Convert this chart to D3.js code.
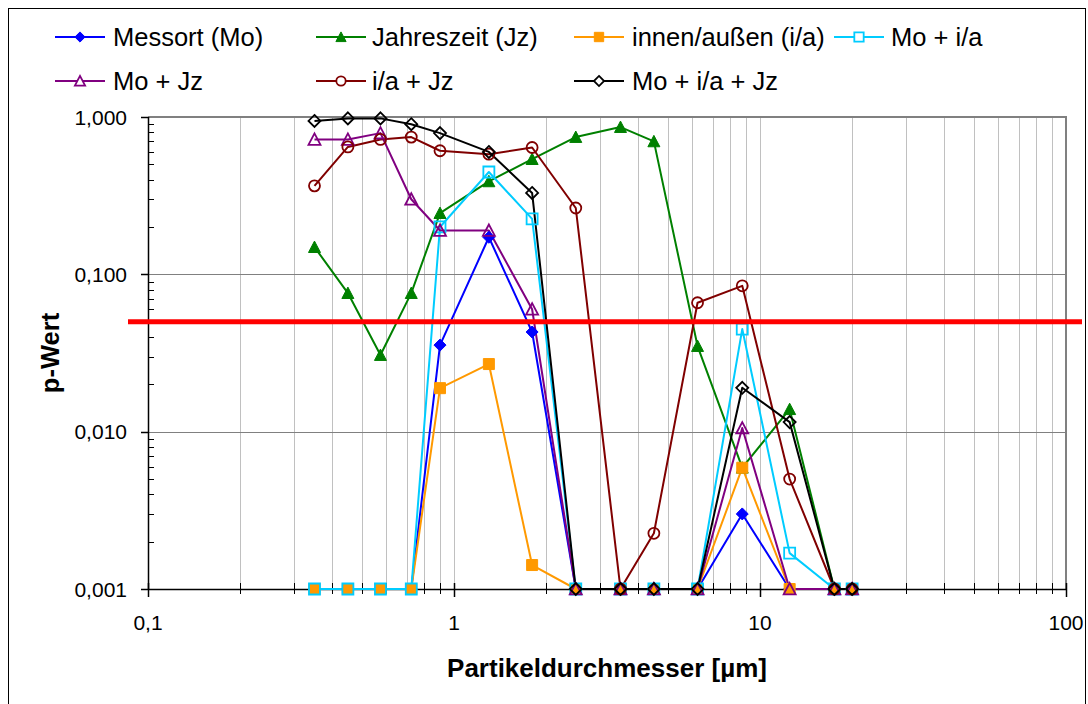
<!DOCTYPE html>
<html>
<head>
<meta charset="utf-8">
<script src="https://cdn.jsdelivr.net/npm/d3@7"></script>
<style>
  html, body { margin: 0; padding: 0; background: #fff; }
  svg { display: block; }
  text { font-family: "Liberation Sans", Arial, sans-serif; fill: #000; }
</style>
</head>
<body>
<svg id="chart" width="1088" height="704"></svg>
<script>
// ---- data ----
const particleSizes = [0.35, 0.45, 0.575, 0.725, 0.9, 1.3, 1.8, 2.5, 3.5, 4.5, 6.25, 8.75, 12.5, 17.5, 20];
const messort      = [0.001, 0.001, 0.001, 0.001, 0.0355, 0.172, 0.043, 0.001, 0.001, 0.001, 0.001, 0.0030, 0.001, 0.001, 0.001];
const jahreszeit   = [0.149, 0.076, 0.0307, 0.076, 0.245, 0.39, 0.54, 0.746, 0.863, 0.70, 0.035, 0.0059, 0.0139, 0.001, 0.001];
const innenAussen  = [0.001, 0.001, 0.001, 0.001, 0.0189, 0.0269, 0.00142, 0.001, 0.001, 0.001, 0.001, 0.0059, 0.001, 0.001, 0.001];
const moIa         = [0.001, 0.001, 0.001, 0.001, 0.20, 0.447, 0.225, 0.001, 0.001, 0.001, 0.001, 0.0449, 0.00169, 0.001, 0.001];
const moJz         = [0.72, 0.72, 0.79, 0.30, 0.19, 0.19, 0.060, 0.001, 0.001, 0.001, 0.001, 0.01054, 0.001, 0.001, 0.001];
const iaJz         = [0.365, 0.645, 0.72, 0.745, 0.61, 0.58, 0.64, 0.264, 0.001, 0.00226, 0.066, 0.0845, 0.0050, 0.001, 0.001];
const moIaJz       = [0.944, 0.98, 0.98, 0.90, 0.79, 0.60, 0.329, 0.001, 0.001, 0.001, 0.001, 0.019, 0.0115, 0.001, 0.001];

const seriesNames = ["Messort (Mo)", "Jahreszeit (Jz)", "innen/außen (i/a)", "Mo + i/a", "Mo + Jz", "i/a + Jz", "Mo + i/a + Jz"];
const xTickValues = [0.1, 1, 10, 100];
const xTickLabels = ["0,1", "1", "10", "100"];
const yTickValues = [1, 0.1, 0.01, 0.001];
const yTickLabels = ["1,000", "0,100", "0,010", "0,001"];
const threshold = 0.05;
const xTitle = "Partikeldurchmesser [µm]";
const yTitle = "p-Wert";

// ---- styles ----
const seriesData = [messort, jahreszeit, innenAussen, moIa, moJz, iaJz, moIaJz];
const styles = [
  { color: "#0000FF", marker: "diamond", filled: true },
  { color: "#008000", marker: "triangle", filled: true },
  { color: "#FF9900", marker: "square", filled: true },
  { color: "#00CCFF", marker: "square", filled: false },
  { color: "#800080", marker: "triangle", filled: false },
  { color: "#800000", marker: "circle", filled: false },
  { color: "#000000", marker: "diamond", filled: false }
];

const svg = d3.select("#chart");
const L = 148, R = 1066, T = 117, B = 589;

const x = d3.scaleLog().domain([0.1, 100]).range([L, R]);
const y = d3.scaleLog().domain([0.001, 1]).range([B, T]);

// outer border
svg.append("rect").attr("x", 8.5).attr("y", 8.5).attr("width", 1077).attr("height", 700)
  .attr("fill", "none").attr("stroke", "#000").attr("stroke-width", 1);

// vertical gridlines (minor + major)
const xGrid = [];
[0.1, 1, 10].forEach(d => { for (let k = 1; k <= 9; k++) xGrid.push(d * k); });
xGrid.push(100);
svg.append("g").selectAll("line").data(xGrid.filter(v => v > 0.1)).join("line")
  .attr("x1", d => Math.round(x(d)) + 0.5).attr("x2", d => Math.round(x(d)) + 0.5)
  .attr("y1", T).attr("y2", B)
  .attr("stroke", "#C0C0C0").attr("stroke-width", 1);

// horizontal gridlines
svg.append("g").selectAll("line").data([0.1, 0.01]).join("line")
  .attr("x1", L).attr("x2", R)
  .attr("y1", d => Math.round(y(d)) + 0.5).attr("y2", d => Math.round(y(d)) + 0.5)
  .attr("stroke", "#808080").attr("stroke-width", 1);

// plot border top/right
svg.append("path")
  .attr("d", `M${L},${T} H${R} V${B}`)
  .attr("fill", "none").attr("stroke", "#808080").attr("stroke-width", 2);

// y axis (log) with custom ticks
const yMinor = [];
[0.001, 0.01, 0.1].forEach(d => { for (let k = 2; k <= 9; k++) yMinor.push(d * k); });
const yAxisG = svg.append("g");
yAxisG.append("line").attr("x1", L + 0.5).attr("x2", L + 0.5).attr("y1", T).attr("y2", B)
  .attr("stroke", "#000").attr("stroke-width", 1.5);
yAxisG.selectAll("line.maj").data(yTickValues).join("line").attr("class", "maj")
  .attr("x1", L - 7).attr("x2", L).attr("y1", d => Math.round(y(d)) + 0.5).attr("y2", d => Math.round(y(d)) + 0.5)
  .attr("stroke", "#000").attr("stroke-width", 1.5);
yAxisG.selectAll("line.min").data(yMinor).join("line").attr("class", "min")
  .attr("x1", L).attr("x2", L + 6).attr("y1", d => Math.round(y(d)) + 0.5).attr("y2", d => Math.round(y(d)) + 0.5)
  .attr("stroke", "#000").attr("stroke-width", 1);
yAxisG.selectAll("text").data(yTickValues).join("text")
  .attr("x", 127).attr("y", d => y(d) + 7.5)
  .attr("text-anchor", "end").attr("font-size", 21)
  .text((d, i) => yTickLabels[i]);

// x axis
const xMinor = [];
[0.1, 1, 10].forEach(d => { for (let k = 2; k <= 9; k++) xMinor.push(d * k); });
const xAxisG = svg.append("g");
xAxisG.append("line").attr("x1", L).attr("x2", R).attr("y1", B + 0.5).attr("y2", B + 0.5)
  .attr("stroke", "#000").attr("stroke-width", 1.5);
xAxisG.selectAll("line.maj").data(xTickValues).join("line").attr("class", "maj")
  .attr("x1", d => Math.round(x(d)) + 0.5).attr("x2", d => Math.round(x(d)) + 0.5)
  .attr("y1", B - 6).attr("y2", B + 8)
  .attr("stroke", "#000").attr("stroke-width", 1.5);
xAxisG.selectAll("line.min").data(xMinor).join("line").attr("class", "min")
  .attr("x1", d => Math.round(x(d)) + 0.5).attr("x2", d => Math.round(x(d)) + 0.5)
  .attr("y1", B - 6).attr("y2", B + 5)
  .attr("stroke", "#000").attr("stroke-width", 1);
xAxisG.selectAll("text").data(xTickValues).join("text")
  .attr("x", d => x(d)).attr("y", 630)
  .attr("text-anchor", "middle").attr("font-size", 21)
  .text((d, i) => xTickLabels[i]);

// axis titles
svg.append("text").attr("x", (L + R) / 2).attr("y", 677)
  .attr("text-anchor", "middle").attr("font-size", 26).attr("font-weight", "bold")
  .text(xTitle);
svg.append("text").attr("transform", `translate(59,${(T + B) / 2}) rotate(-90)`)
  .attr("text-anchor", "middle").attr("font-size", 25.5).attr("font-weight", "bold")
  .text(yTitle);

// marker path generator
function markerPath(type, s) {
  switch (type) {
    case "diamond": return `M0,${-s} L${s},0 L0,${s} L${-s},0 Z`;
    case "square": return `M${-s},${-s} H${s} V${s} H${-s} Z`;
    case "triangle": return `M0,${-s} L${s},${s * 0.9} L${-s},${s * 0.9} Z`;
    case "circle": return `M${s},0 A${s},${s} 0 1,1 ${-s},0 A${s},${s} 0 1,1 ${s},0 Z`;
  }
}
const markerSize = { diamond: 6, square: 5.5, triangle: 6, circle: 5.5 };

const line = d3.line().x(d => x(d[0])).y(d => y(d[1]));

// all lines first
const linesG = svg.append("g");
seriesData.forEach((vals, i) => {
  const pts = particleSizes.map((p, j) => [p, vals[j]]);
  linesG.append("path").datum(pts).attr("d", line)
    .attr("fill", "none").attr("stroke", styles[i].color).attr("stroke-width", 2)
    .attr("stroke-linejoin", "round");
});
// then markers
const markG = svg.append("g");
seriesData.forEach((vals, i) => {
  const st = styles[i];
  const pts = particleSizes.map((p, j) => [p, vals[j]]);
  markG.append("g").selectAll("path").data(pts).join("path")
    .attr("transform", d => `translate(${x(d[0])},${y(d[1])})`)
    .attr("d", markerPath(st.marker, markerSize[st.marker]))
    .attr("fill", st.filled ? st.color : "none")
    .attr("stroke", st.color).attr("stroke-width", st.filled ? 1 : 1.8);
});

// threshold line (p = 0.05)
svg.append("line").attr("x1", 128).attr("x2", 1082)
  .attr("y1", y(threshold)).attr("y2", y(threshold))
  .attr("stroke", "#FF0000").attr("stroke-width", 5);

// legend
const legendPos = [
  { lx: 55, tx: 113, cy: 37 }, { lx: 316, tx: 372, cy: 37 }, { lx: 574, tx: 632, cy: 37 }, { lx: 834, tx: 891, cy: 37 },
  { lx: 55, tx: 113, cy: 81 }, { lx: 316, tx: 372, cy: 81 }, { lx: 574, tx: 632, cy: 81 }
];
const legG = svg.append("g");
seriesNames.forEach((name, i) => {
  const p = legendPos[i], st = styles[i];
  const g = legG.append("g");
  g.append("line").attr("x1", p.lx).attr("x2", p.lx + 50).attr("y1", p.cy).attr("y2", p.cy)
    .attr("stroke", st.color).attr("stroke-width", 2);
  g.append("path").attr("transform", `translate(${p.lx + 25},${p.cy})`)
    .attr("d", markerPath(st.marker, markerSize[st.marker] * 0.85))
    .attr("fill", st.filled ? st.color : "#fff")
    .attr("stroke", st.color).attr("stroke-width", st.filled ? 1 : 1.8);
  g.append("text").attr("x", p.tx).attr("y", p.cy + 9)
    .attr("font-size", 25.5).text(name);
});
</script>
</body>
</html>
